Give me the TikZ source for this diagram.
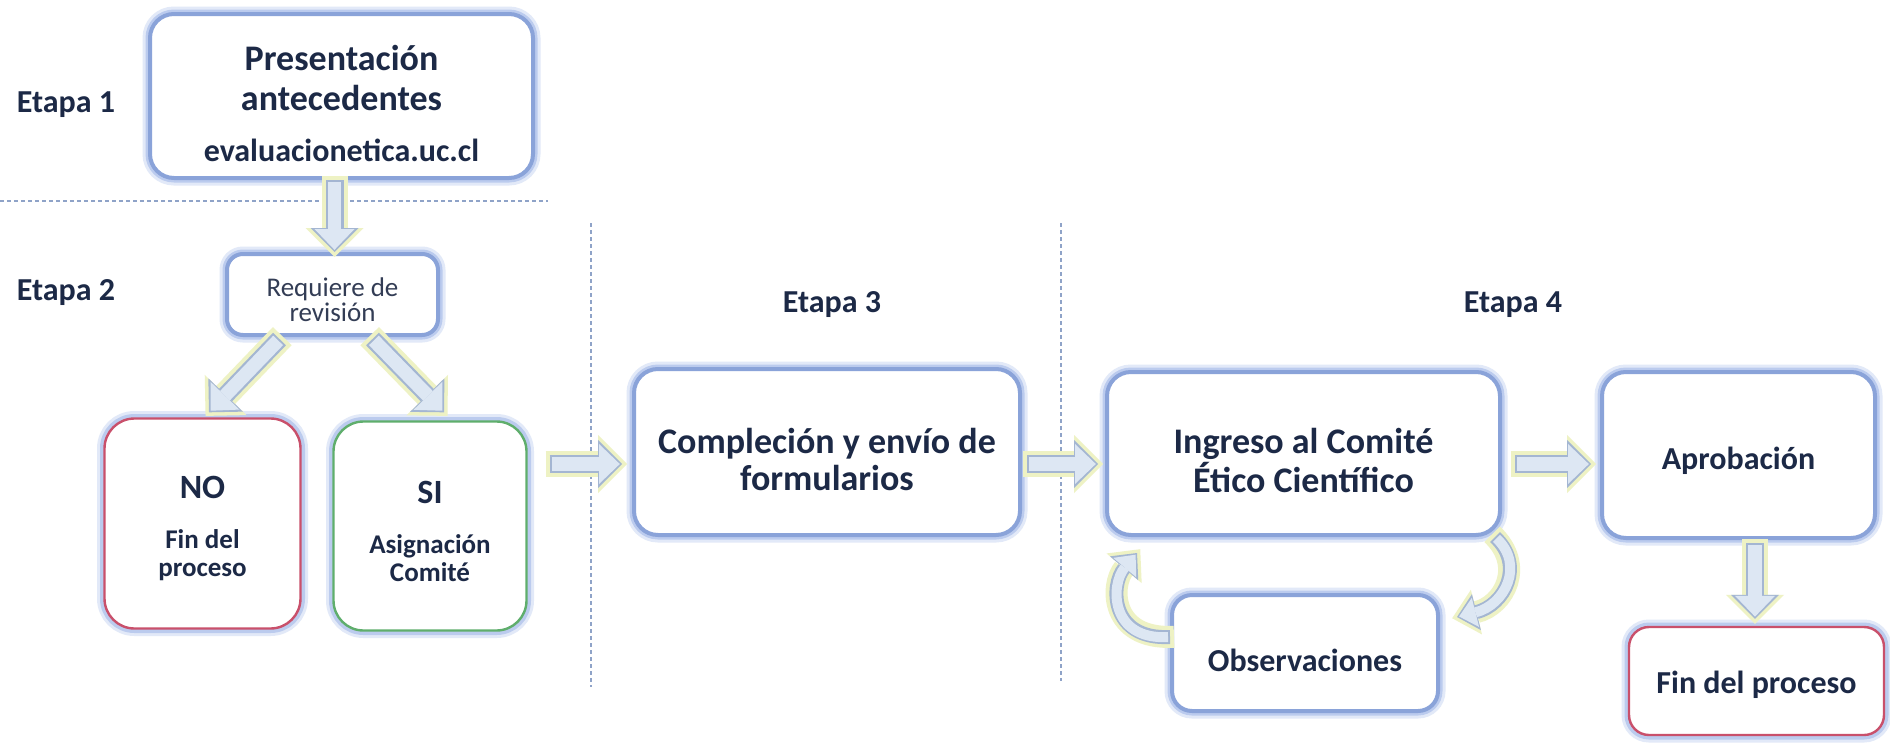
\documentclass[tikz,border=0pt]{standalone}
\usepackage{fontspec}
\setmainfont{Carlito}
\usetikzlibrary{arrows.meta}
\definecolor{txt}{HTML}{1C2946}
\definecolor{reqtxt}{HTML}{333D55}
\definecolor{bedge}{HTML}{8AA3D9}
\definecolor{bglowA}{HTML}{BBCBEE}
\definecolor{bglowB}{HTML}{E2E9F8}
\definecolor{noedge}{HTML}{C9506B}
\definecolor{siedge}{HTML}{5FAE6C}
\definecolor{afill}{HTML}{DDE7F3}
\definecolor{aedge}{HTML}{A4B6D2}
\definecolor{aglow}{HTML}{EEF2C4}
\definecolor{dline}{HTML}{8FA3C8}
\tikzset{
  box/.style={rounded corners=12pt, fill=white, draw=bedge, line width=2pt,
    preaction={draw=bglowB, line width=7.5pt},
    preaction={draw=bglowA, line width=4.5pt},
    text=txt, align=center, inner sep=0pt},
  etapa/.style={text=txt, font=\fontsize{16}{19}\selectfont\bfseries},
  sep/.style={draw=dline, line width=0.8pt, dash pattern=on 2pt off 1.5pt},
  Aglow/.style={draw=aglow, line width=13pt, shorten <=-2pt, shorten >=-2.5pt,
    -{Triangle[length=14.5pt,width=29pt,line width=0pt]}},
  Aedge/.style={draw=aedge, line width=9pt,
    -{Triangle[length=12pt,width=24pt,line width=0pt]}},
  Afill/.style={draw=afill, line width=6.8pt, shorten <=1pt, shorten >=1.1pt,
    -{Triangle[length=10.4pt,width=20pt,line width=0pt]}},
  Cglow/.style={draw=aglow, line width=11pt, shorten <=-2pt, shorten >=-2.5pt,
    -{Triangle[length=12.5pt,width=23pt,line width=0pt]}},
  Cedge/.style={draw=aedge, line width=7pt,
    -{Triangle[length=10pt,width=18.5pt,line width=0pt]}},
  Cfill/.style={draw=afill, line width=5pt, shorten <=1pt, shorten >=1.1pt,
    -{Triangle[length=8.4pt,width=15pt,line width=0pt]}},
}
\newcommand\blk[2][A]{%
  \draw[#1glow] #2;
  \draw[#1edge] #2;
  \draw[#1fill] #2;}
\newcommand\lift[1]{\rule{0pt}{#1}}
\begin{document}
\begin{tikzpicture}[x=0.5pt,y=-0.5pt]
\useasboundingbox[fill=white] (0,0) rectangle (1890,744);

% separators
\draw[sep] (0,201) -- (548,201);
\draw[sep] (591,223) -- (591,687);
\draw[sep] (1061,223) -- (1061,681);

% stage labels
\node[etapa] (e1) at (66,105) {Etapa 1};
\node[etapa] (e2) at (66,293) {Etapa 2};
\node[etapa] (e3) at (832,305) {Etapa 3};
\node[etapa] (e4) at (1513,305) {Etapa 4};

% boxes
\node[box, minimum width=191.5pt, minimum height=82pt,
  font=\fontsize{18}{20}\selectfont\bfseries] (pres) at (341.5,96)
  {\lift{20pt}Presentación\\antecedentes\\[5.5pt]\fontsize{16}{20}\selectfont evaluacionetica.uc.cl};
\node[box, rounded corners=8pt, minimum width=105.5pt, minimum height=40.5pt, text=reqtxt,
  font=\fontsize{13.5}{12.5}\selectfont] (req) at (332.5,294.5)
  {\lift{14.5pt}Requiere de\\revisión};
\node[box, rounded corners=15pt, draw=noedge, line width=1.2pt, minimum width=98pt, minimum height=105pt,
  font=\fontsize{13.5}{14}\selectfont\bfseries] (no) at (202.5,523.5)
  {\lift{16.5pt}\fontsize{17}{14}\selectfont NO\\[11pt]Fin del\\proceso};
\node[box, rounded corners=15pt, draw=siedge, line width=1.2pt, minimum width=96.5pt, minimum height=104.5pt,
  font=\fontsize{13.5}{14}\selectfont\bfseries] (si) at (430,526)
  {\lift{16.5pt}\fontsize{17}{14}\selectfont SI\\[11pt]Asignación\\Comité};
\node[box, minimum width=193pt, minimum height=83pt,
  font=\fontsize{18}{18.5}\selectfont\bfseries] (comp) at (827,452)
  {\lift{20pt}Compleción y envío de\\formularios};
\node[box, minimum width=196.5pt, minimum height=81.5pt,
  font=\fontsize{18}{18}\selectfont\bfseries] (ing) at (1303.5,453.5)
  {\lift{19.5pt}Ingreso al Comité\\Ético Científico};
\node[box, minimum width=136.5pt, minimum height=83pt,
  font=\fontsize{16}{19}\selectfont\bfseries] (apr) at (1738.5,455)
  {\lift{16.8pt}Aprobación};
\node[box, rounded corners=10pt, draw=noedge, line width=1.2pt, minimum width=127.5pt, minimum height=54pt,
  font=\fontsize{16}{19}\selectfont\bfseries] (fin) at (1756.5,681)
  {\lift{15pt}Fin del proceso};
\node[box, rounded corners=10pt, minimum width=133pt, minimum height=58pt,
  font=\fontsize{16}{19}\selectfont\bfseries] (obs) at (1305,653)
  {\lift{18.5pt}Observaciones};

% straight block arrows
\blk{([xshift=1pt]req.north |- pres.south) -- ([xshift=1pt]req.north)}
\blk{([shift={(-53,2)}]req.south) -- ([shift={(6.5,-5)}]no.north)}
\blk{([shift={(40,2)}]req.south) -- ([shift={(14,-8)}]si.north)}
\blk{([shift={(22,-62)}]si.east) -- ([shift={(-10,12)}]comp.west)}
\blk{([shift={(5,12)}]comp.east) -- ([shift={(-7,10.5)}]ing.west)}
\blk{([shift={(13,10.5)}]ing.east) -- ([shift={(-9,9)}]apr.west)}
\blk{([shift={(16.5,3)}]apr.south) -- ([shift={(-1.5,-7)}]fin.north)}

% curved block arrows
\blk[C]{([shift={(-7,0)}]ing.south east) .. controls ([shift={(23,28)}]ing.south east) and ([shift={(65,12)}]obs.north east) .. ([shift={(17,24)}]obs.north east)}
\blk[C]{([shift={(0,-16)}]obs.west) .. controls ([shift={(-60,-13)}]obs.west) and ([shift={(5,48)}]ing.south west) .. ([shift={(32,16)}]ing.south west)}
\end{tikzpicture}
\end{document}
